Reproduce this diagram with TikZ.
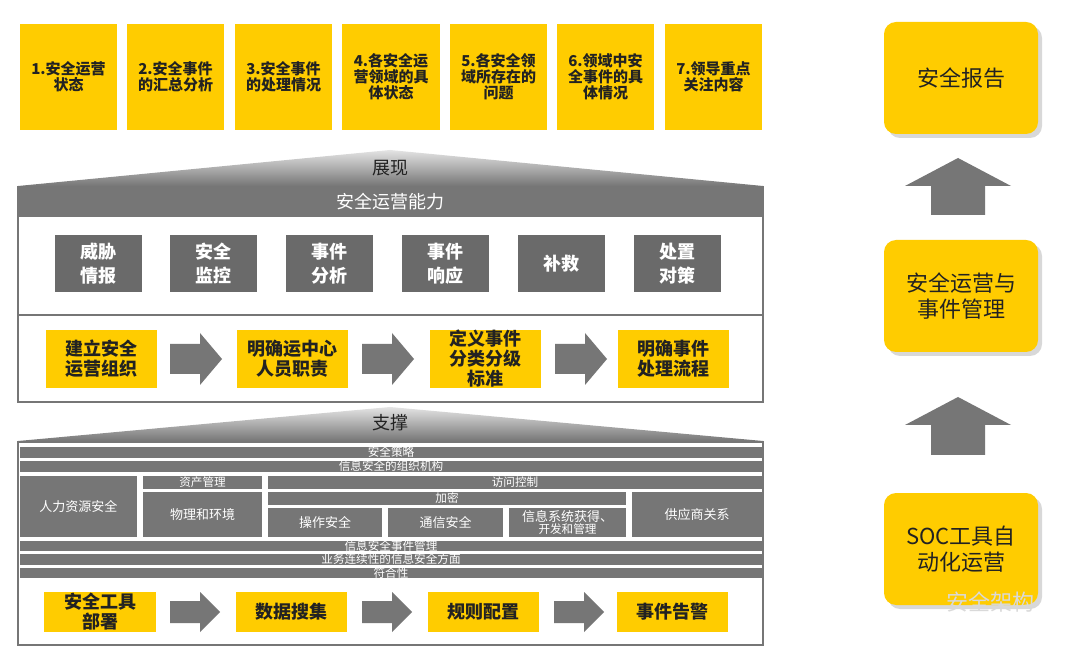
\documentclass[tikz,border=0pt]{standalone}
\usepackage{fontspec}
\setmainfont{Noto Sans CJK SC}
\usetikzlibrary{shadows}
\definecolor{yel}{HTML}{FFCC00}
\definecolor{gr}{HTML}{767676}
\definecolor{txt}{HTML}{222222}
\tikzset{
 ybox/.style={fill=yel,inner sep=0,align=center,font=\bfseries\fontsize{7.5}{8}\selectfont,text=txt},
 gbox/.style={fill=gr!90!black,inner sep=0,align=center,font=\bfseries\fontsize{9}{12}\selectfont,text=white},
 bar/.style={fill=gr,inner sep=0,align=center,font=\fontsize{5.8}{6}\selectfont,text=white},
 rbox/.style={fill=yel,rounded corners=6pt,inner sep=0,align=center,font=\fontsize{11}{13}\selectfont,text=txt,drop shadow={shadow xshift=2pt,shadow yshift=-2pt,fill=gray!60}},
}
\newcommand{\bx}[6]{\node[#1,minimum width={(#4-#2)*0.5pt},minimum height={(#5-#3)*0.5pt}] (#6) at ({(#2+#4)/2},{(#3+#5)/2})}
% horizontal arrow: x1, x2, yc, shaft half, head half, head length
\newcommand{\harr}[6]{\fill[gr] (#1,#3-#4) -- (#2-#6,#3-#4) -- (#2-#6,#3-#5) -- (#2,#3) -- (#2-#6,#3+#5) -- (#2-#6,#3+#4) -- (#1,#3+#4) -- cycle;}
% up arrow: xc, ytip, ybase, shaft half, head half, head length
\newcommand{\uarr}[6]{\fill[gr] (#1-#4,#3) -- (#1-#4,#2+#6) -- (#1-#5,#2+#6) -- (#1,#2) -- (#1+#5,#2+#6) -- (#1+#4,#2+#6) -- (#1+#4,#3) -- cycle;}
\begin{document}
\begin{tikzpicture}[x=0.5pt,y=-0.5pt]
\useasboundingbox[fill=white] (0,0) rectangle (1080,651);
% top boxes
\bx{ybox}{20}{24}{117}{130}{t1} {1.安全运营\\状态};
\bx{ybox}{127}{24}{224}{130}{t2} {2.安全事件\\的汇总分析};
\bx{ybox}{235}{24}{332}{130}{t3} {3.安全事件\\的处理情况};
\bx{ybox}{342}{24}{440}{130}{t4} {4.各安全运\\营领域的具\\体状态};
\bx{ybox}{450}{24}{547}{130}{t5} {5.各安全领\\域所存在的\\问题};
\bx{ybox}{557}{24}{654}{130}{t6} {6.领域中安\\全事件的具\\体情况};
\bx{ybox}{665}{24}{762}{130}{t7} {7.领导重点\\关注内容};
% triangle 1
\shade[top color=gr!20,bottom color=gr] (18,186) -- (390,150) -- (763,186) -- cycle;
\node[font=\fontsize{9}{10}\selectfont,text=txt] (zx) at (390,168) {展现};
% section 1
\draw[gr,line width=1.2pt] (18,187) rectangle (763,402);
\bx{bar}{18}{187}{763}{217}{h1} {\fontsize{9}{10}\selectfont 安全运营能力};
\bx{gbox}{55}{235}{142}{292}{g1} {威胁\\情报};
\bx{gbox}{170}{235}{257}{292}{g2} {安全\\监控};
\bx{gbox}{286}{235}{373}{292}{g3} {事件\\分析};
\bx{gbox}{402}{235}{489}{292}{g4} {事件\\响应};
\bx{gbox}{518}{235}{605}{292}{g5} {补救};
\bx{gbox}{634}{235}{721}{292}{g6} {处置\\对策};
\draw[gr,line width=1.2pt] (18,315) -- (763,315);
\tikzset{ybig/.style={ybox,font=\bfseries\fontsize{9}{10}\selectfont}}
\bx{ybig}{46}{330}{157}{388}{y1} {建立安全\\运营组织};
\bx{ybig}{237}{330}{348}{388}{y2} {明确运中心\\人员职责};
\bx{ybig}{430}{330}{541}{388}{y3} {定义事件\\分类分级\\标准};
\bx{ybig}{618}{330}{729}{388}{y4} {明确事件\\处理流程};
\harr{170}{222}{359}{15}{26}{22}
\harr{362}{414}{359}{15}{26}{22}
\harr{555}{607}{359}{15}{26}{22}
% triangle 2
\shade[top color=gr!20,bottom color=gr] (18,441) -- (390,407) -- (763,441) -- cycle;
\node[font=\fontsize{9}{10}\selectfont,text=txt] (zc) at (390,423) {支撑};
% section 2
\draw[gr,line width=1.2pt] (18,442) rectangle (763,645);
\bx{bar}{20}{447}{762}{458}{b1} {安全策略};
\bx{bar}{20}{461}{762}{472}{b2} {信息安全的组织机构};
\bx{bar}{20}{476}{137}{537}{b3} {\fontsize{6.5}{7}\selectfont 人力资源安全};
\bx{bar}{143}{476}{262}{489}{b4} {资产管理};
\bx{bar}{268}{476}{762}{489}{b5} {访问控制};
\bx{bar}{143}{492}{262}{537}{b6} {\fontsize{6.5}{7}\selectfont 物理和环境};
\bx{bar}{268}{492}{626}{505}{b7} {加密};
\bx{bar}{268}{508}{382}{537}{b8} {\fontsize{6.5}{7}\selectfont 操作安全};
\bx{bar}{388}{508}{503}{537}{b9} {\fontsize{6.5}{7}\selectfont 通信安全};
\bx{bar}{509}{508}{626}{537}{b10} {\fontsize{6.5}{7}\selectfont 信息系统获得、\\开发和管理};
\bx{bar}{632}{492}{762}{537}{b11} {\fontsize{6.5}{7}\selectfont 供应商关系};
\bx{bar}{20}{541}{762}{551}{b12} {信息安全事件管理};
\bx{bar}{20}{554}{762}{565}{b13} {业务连续性的信息安全方面};
\bx{bar}{20}{568}{762}{578}{b14} {符合性};
\bx{ybig}{44}{592}{156}{632}{z1} {安全工具\\部署};
\bx{ybig}{236}{592}{347}{632}{z2} {数据搜集};
\bx{ybig}{428}{592}{539}{632}{z3} {规则配置};
\bx{ybig}{617}{592}{728}{632}{z4} {事件告警};
\harr{170}{220}{612}{11}{20}{20}
\harr{362}{412}{612}{11}{20}{20}
\harr{554}{604}{612}{11}{20}{20}
% right side
\bx{rbox}{884}{22}{1038}{134}{r1} {安全报告};
\bx{rbox}{884}{240}{1038}{352}{r2} {安全运营与\\事件管理};
\bx{rbox}{884}{493}{1038}{605}{r3} {SOC工具自\\动化运营};
\uarr{958}{158}{215}{27}{53}{28}
\uarr{958}{397}{455}{27}{53}{28}
\node[font=\fontsize{11}{12}\selectfont,text=gray!30] (wm) at (990,602) {安全架构};
\end{tikzpicture}
\end{document}
